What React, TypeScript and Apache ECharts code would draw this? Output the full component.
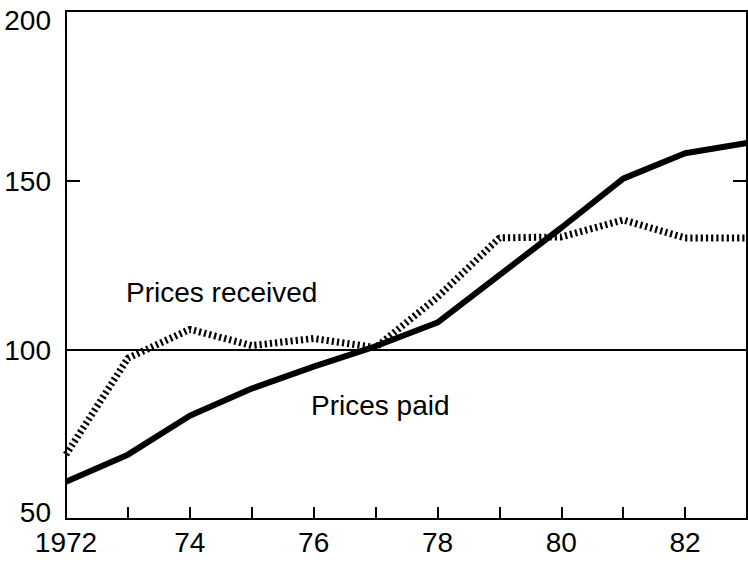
import React, { useEffect, useRef } from "react";
import * as echarts from "echarts";

const years = [1972, 1973, 1974, 1975, 1976, 1977, 1978, 1979, 1980, 1981, 1982, 1983];
const pricesPaid = [61, 69, 80.5, 88.5, 95, 101, 108, 122, 136, 150.5, 158, 161];
const pricesReceived = [69, 97.5, 106, 101.2, 103.3, 100.6, 115.5, 133, 133.3, 138.3, 133, 133];
const yTicks = [50, 100, 150, 200];

const FONT = "'Liberation Sans', Arial, Helvetica, sans-serif";
const FS = 28;

export default function App() {
  const ref = useRef<HTMLDivElement>(null);
  useEffect(() => {
    if (!ref.current) return;
    const chart = echarts.init(ref.current, null, { renderer: "svg" });
    chart.setOption({
      animation: false,
      backgroundColor: "#fff",
      grid: { left: 66, right: 1, top: 11, bottom: 44, show: true, borderColor: "#000", borderWidth: 2, backgroundColor: "transparent" },
      xAxis: {
        type: "value",
        min: 1972,
        max: 1983,
        interval: 1,
        axisLine: { show: true, lineStyle: { color: "#000", width: 2 } },
        axisTick: { show: true, inside: true, length: 12, lineStyle: { color: "#000", width: 2 } },
        splitLine: { show: false },
        axisLabel: {
          color: "#000",
          fontSize: FS,
          fontFamily: FONT,
          margin: 9,
          showMaxLabel: false,
          formatter: (v: number) => {
            if (v === 1972) return "1972";
            if (v % 2 === 0) return String(v % 100);
            return "";
          },
        },
      },
      yAxis: [
        {
          type: "value",
          min: yTicks[0],
          max: yTicks[yTicks.length - 1],
          interval: 50,
          axisLine: { show: true, lineStyle: { color: "#000", width: 2 } },
          axisTick: { show: true, inside: true, length: 14, lineStyle: { color: "#000", width: 2 } },
          splitLine: { show: false },
          axisLabel: {
            color: "#000",
            fontSize: FS,
            fontFamily: FONT,
            margin: 15,
            formatter: (v: number) => {
              if (v === yTicks[yTicks.length - 1]) return "{top|" + v + "}";
              if (v === yTicks[0]) return "{bot|" + v + "}";
              return "{mid|" + v + "}";
            },
            rich: {
              top: { fontSize: FS, fontFamily: FONT, color: "#000", padding: [19, 0, 0, 0] },
              bot: { fontSize: FS, fontFamily: FONT, color: "#000", padding: [0, 0, 13, 0] },
              mid: { fontSize: FS, fontFamily: FONT, color: "#000", padding: [2, 0, 0, 0] },
            },
          },
        },
        {
          type: "value",
          position: "right",
          min: yTicks[0],
          max: yTicks[yTicks.length - 1],
          interval: 50,
          axisLine: { show: true, lineStyle: { color: "#000", width: 2 } },
          axisTick: { show: true, inside: true, length: 14, lineStyle: { color: "#000", width: 2 } },
          splitLine: { show: false },
          axisLabel: { show: false },
        },
      ],
      series: [
        {
          name: "Prices paid",
          type: "line",
          data: years.map((y, i) => [y, pricesPaid[i]]),
          symbol: "none",
          lineStyle: { color: "#000", width: 6 },
          markLine: {
            silent: true,
            symbol: "none",
            label: { show: false },
            lineStyle: { color: "#000", width: 2, type: "solid" },
            data: [{ yAxis: 100 }],
          },
          z: 3,
        },
        {
          name: "Prices received",
          type: "line",
          data: years.map((y, i) => [y, pricesReceived[i]]),
          symbol: "none",
          lineStyle: { color: "#000", width: 7, type: [2.2, 3] },
          z: 2,
        },
      ],
      graphic: [
        { type: "text", left: 126, top: 278, style: { text: "Prices received", fontSize: FS, fontFamily: FONT, fill: "#000" } },
        { type: "text", left: 311, top: 391, style: { text: "Prices paid", fontSize: FS, fontFamily: FONT, fill: "#000" } },
      ],
    });
    return () => chart.dispose();
  }, []);
  return <div ref={ref} style={{ position: "fixed", left: 0, top: 0, width: 748, height: 563 }} />;
}
